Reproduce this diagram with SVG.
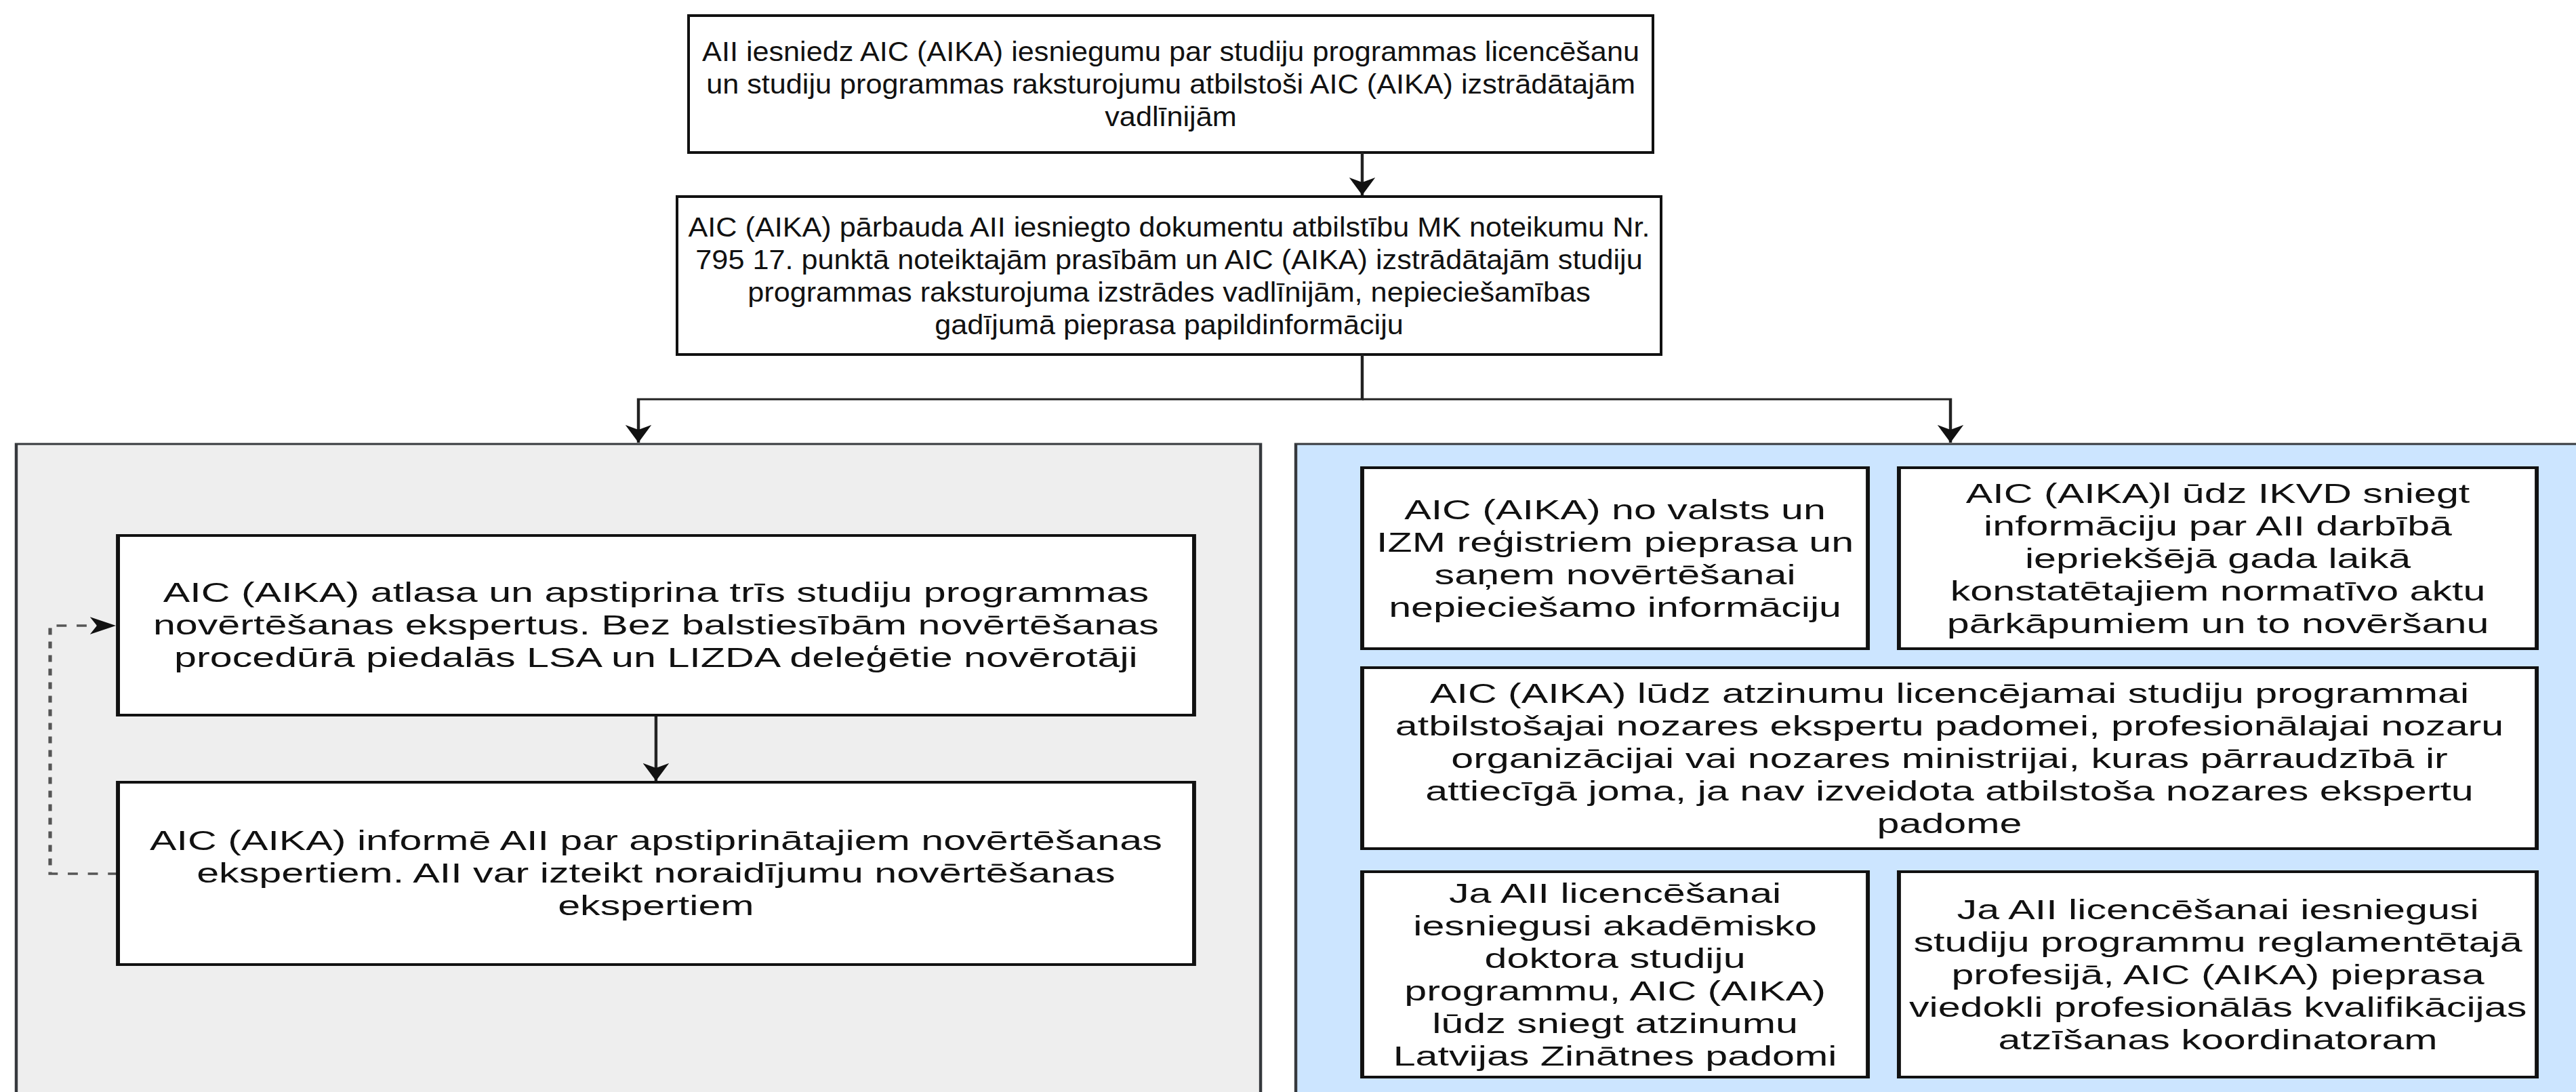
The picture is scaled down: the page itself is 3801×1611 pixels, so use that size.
<svg xmlns="http://www.w3.org/2000/svg" width="3801" height="1611" viewBox="0 0 3801 1611">
<defs>
<style>
.box{fill:#ffffff;stroke:#111111;stroke-width:4}
.grp-gray{fill:#eeeeee;stroke:#36393d;stroke-width:3}
.grp-blue{fill:#cce5ff;stroke:#36393d;stroke-width:3}
.conn{fill:none;stroke:#222222;stroke-width:3}
.dash{fill:none;stroke:#555555;stroke-width:3.5;stroke-dasharray:10 10}
.t{font-family:"Liberation Sans",Arial,Helvetica,sans-serif;font-size:40px;fill:#111111;text-anchor:middle}
</style>
<marker id="arrow" markerUnits="userSpaceOnUse" markerWidth="26" markerHeight="26" viewBox="0 0 26 26" refX="26" refY="13" orient="auto">
<path d="M0,0 L26,13 L0,26 L7,13 Z" fill="#111111"/>
</marker>
</defs>
<rect x="0" y="0" width="3801" height="1611" fill="#ffffff"/>
<g id="node-submit">
<rect class="box" x="1016" y="23" width="1423" height="202"/>
<text class="t" transform="translate(1727.5 0) scale(1.08 1)"><tspan x="0" y="90">AII iesniedz AIC (AIKA) iesniegumu par studiju programmas licencēšanu</tspan><tspan x="0" y="138">un studiju programmas raksturojumu atbilstoši AIC (AIKA) izstrādātajām</tspan><tspan x="0" y="186">vadlīnijām</tspan></text>
</g>
<g id="node-check">
<rect class="box" x="999" y="290" width="1452" height="233"/>
<text class="t" transform="translate(1725 0) scale(1.08 1)"><tspan x="0" y="349">AIC (AIKA) pārbauda AII iesniegto dokumentu atbilstību MK noteikumu Nr.</tspan><tspan x="0" y="397">795 17. punktā noteiktajām prasībām un AIC (AIKA) izstrādātajām studiju</tspan><tspan x="0" y="445">programmas raksturojuma izstrādes vadlīnijām, nepieciešamības</tspan><tspan x="0" y="493">gadījumā pieprasa papildinformāciju</tspan></text>
</g>
<g transform="scale(1.48 1)">
<g id="group-left">
<rect class="grp-gray" x="16.2" y="655" width="1240.6" height="1100"/>
</g>
<g id="group-right">
<rect class="grp-blue" x="1291.9" y="655" width="1305" height="1100"/>
</g>
<g id="connectors">
<path class="conn" d="M1358.1,225 V288" marker-end="url(#arrow)"/>
<path class="conn" d="M1358.1,523 V589 H636.5 V653" marker-end="url(#arrow)"/>
<path class="conn" d="M1358.1,589 H1944.6 V653" marker-end="url(#arrow)"/>
<path class="conn" d="M654,1055 V1152" marker-end="url(#arrow)"/>
<path class="dash" d="M117.6,1289 H50 V923 H115.6" marker-end="url(#arrow)"/>
</g>
<g id="node-experts">
<rect class="box" x="117.6" y="790" width="1072.9" height="265"/>
<text class="t"><tspan x="654" y="888">AIC (AIKA) atlasa un apstiprina trīs studiju programmas</tspan><tspan x="654" y="936">novērtēšanas ekspertus. Bez balstiesībām novērtēšanas</tspan><tspan x="654" y="984">procedūrā piedalās LSA un LIZDA deleģētie novērotāji</tspan></text>
</g>
<g id="node-inform">
<rect class="box" x="117.6" y="1154" width="1072.9" height="269"/>
<text class="t"><tspan x="654" y="1254">AIC (AIKA) informē AII par apstiprinātajiem novērtēšanas</tspan><tspan x="654" y="1302">ekspertiem. AII var izteikt noraidījumu novērtēšanas</tspan><tspan x="654" y="1350">ekspertiem</tspan></text>
</g>
<g id="node-registers">
<rect class="box" x="1358.1" y="690" width="504.1" height="267"/>
<text class="t"><tspan x="1610.2" y="766">AIC (AIKA) no valsts un</tspan><tspan x="1610.2" y="814">IZM reģistriem pieprasa un</tspan><tspan x="1610.2" y="862">saņem novērtēšanai</tspan><tspan x="1610.2" y="910">nepieciešamo informāciju</tspan></text>
</g>
<g id="node-ikvd">
<rect class="box" x="1893.2" y="690" width="635.9" height="267"/>
<text class="t"><tspan x="2211.2" y="742">AIC (AIKA)l ūdz IKVD sniegt</tspan><tspan x="2211.2" y="790">informāciju par AII darbībā</tspan><tspan x="2211.2" y="838">iepriekšējā gada laikā</tspan><tspan x="2211.2" y="886">konstatētajiem normatīvo aktu</tspan><tspan x="2211.2" y="934">pārkāpumiem un to novēršanu</tspan></text>
</g>
<g id="node-council">
<rect class="box" x="1358.1" y="985" width="1171" height="267"/>
<text class="t"><tspan x="1943.6" y="1037">AIC (AIKA) lūdz atzinumu licencējamai studiju programmai</tspan><tspan x="1943.6" y="1085">atbilstošajai nozares ekspertu padomei, profesionālajai nozaru</tspan><tspan x="1943.6" y="1133">organizācijai vai nozares ministrijai, kuras pārraudzībā ir</tspan><tspan x="1943.6" y="1181">attiecīgā joma, ja nav izveidota atbilstoša nozares ekspertu</tspan><tspan x="1943.6" y="1229">padome</tspan></text>
</g>
<g id="node-doctoral">
<rect class="box" x="1358.1" y="1286" width="504.1" height="303"/>
<text class="t"><tspan x="1610.2" y="1332">Ja AII licencēšanai</tspan><tspan x="1610.2" y="1380">iesniegusi akadēmisko</tspan><tspan x="1610.2" y="1428">doktora studiju</tspan><tspan x="1610.2" y="1476">programmu, AIC (AIKA)</tspan><tspan x="1610.2" y="1524">lūdz sniegt atzinumu</tspan><tspan x="1610.2" y="1572">Latvijas Zinātnes padomi</tspan></text>
</g>
<g id="node-regulated">
<rect class="box" x="1893.2" y="1286" width="635.9" height="303"/>
<text class="t"><tspan x="2211.2" y="1356">Ja AII licencēšanai iesniegusi</tspan><tspan x="2211.2" y="1404">studiju programmu reglamentētajā</tspan><tspan x="2211.2" y="1452">profesijā, AIC (AIKA) pieprasa</tspan><tspan x="2211.2" y="1500">viedokli profesionālās kvalifikācijas</tspan><tspan x="2211.2" y="1548">atzīšanas koordinatoram</tspan></text>
</g>
</g>
</svg>
